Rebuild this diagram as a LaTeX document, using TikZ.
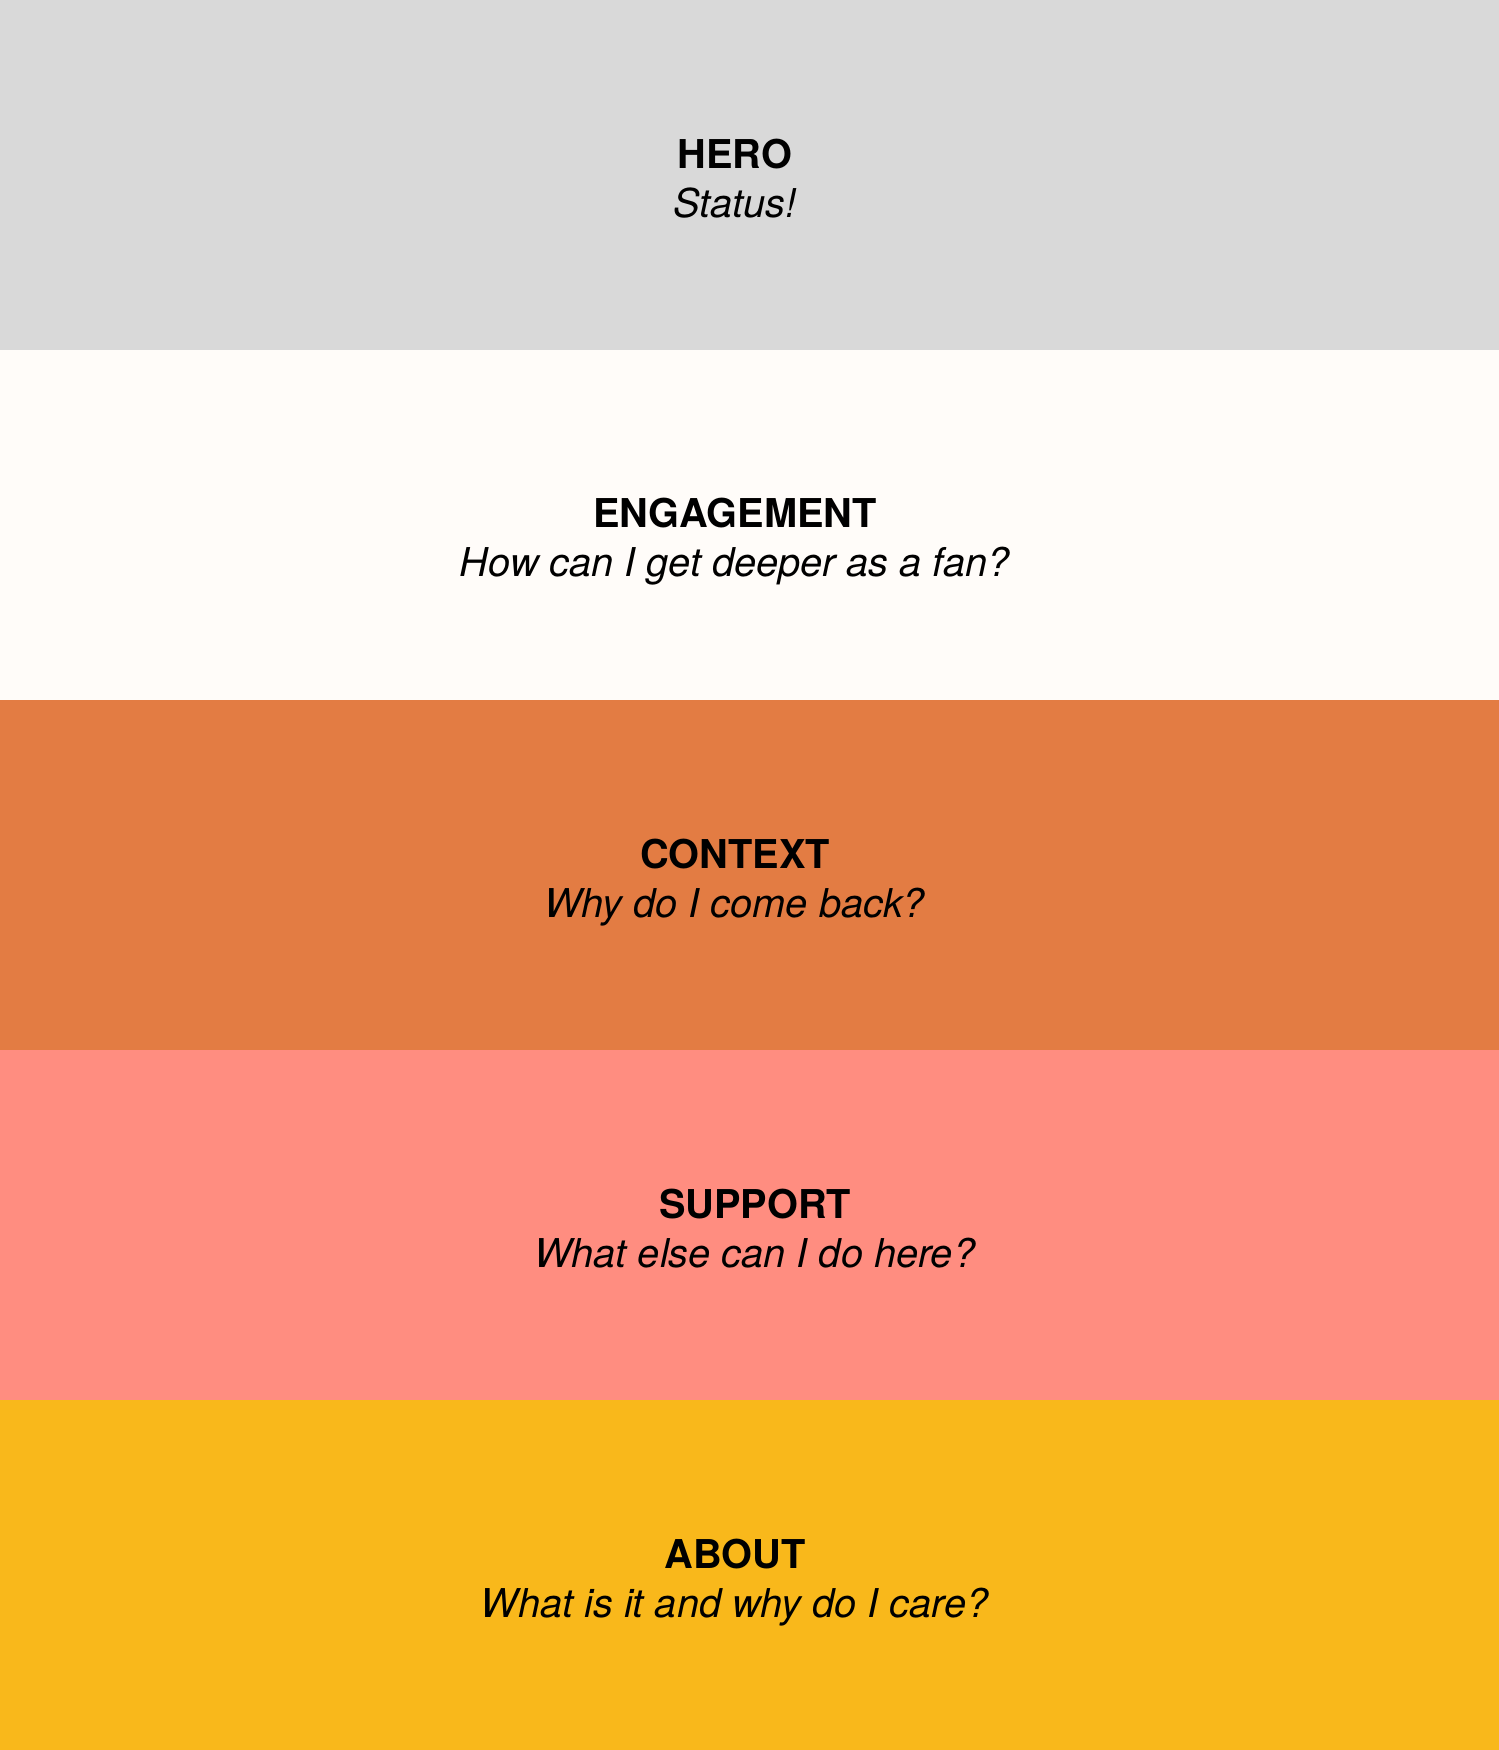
\documentclass[tikz,border=0pt]{standalone}
\usepackage{fontspec}
\setmainfont{TeX Gyre Heros}
\definecolor{HeroColor}{RGB}{217,217,217}
\definecolor{EngageColor}{RGB}{255,252,249}
\definecolor{ContextColor}{RGB}{227,124,67}
\definecolor{SupportColor}{RGB}{255,141,128}
\definecolor{AboutColor}{RGB}{249,184,27}
\usepackage{tikz}
\usetikzlibrary{positioning}
\tikzset{
  band/.style={draw=none},
  label text/.style={anchor=north, align=center, inner sep=0pt, text=black,
    font=\fontsize{11.3}{14}\selectfont}
}

\begin{document}
\begin{tikzpicture}
                \useasboundingbox (0,0) rectangle (14.99,17.5);

                % Hero
                \fill[band, HeroColor] (0,14) rectangle (14.99,17.5);
                \node[label text] (hero) at (7.35,16.12) {\textbf{HERO}\\\textit{Status!}};

                % Engagement
                \fill[band, EngageColor] (0,10.5) rectangle (14.99,14);
                \node[label text] (engagement) at (7.35,12.53) {\textbf{ENGAGEMENT}\\\textit{How can I get deeper as a fan?}};

                % Context
                \fill[band, ContextColor] (0,7) rectangle (14.99,10.5);
                \node[label text] (context) at (7.35,9.12) {\textbf{CONTEXT}\\\textit{Why do I come back?}};

                % Support
                \fill[band, SupportColor] (0,3.5) rectangle (14.99,7);
                \node[label text] (support) at (7.55,5.62) {\textbf{SUPPORT}\\\textit{What else can I do here?}};

                % About
                \fill[band, AboutColor] (0,0) rectangle (14.99,3.5);
                \node[label text] (about) at (7.35,2.12) {\textbf{ABOUT}\\\textit{What is it and why do I care?}};
            \end{tikzpicture}
\end{document}
